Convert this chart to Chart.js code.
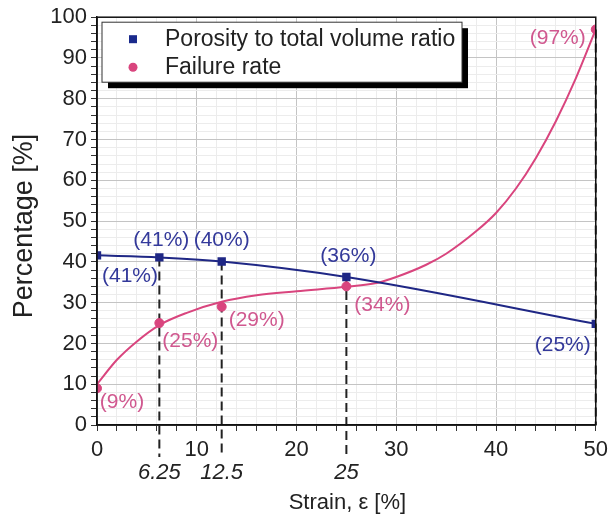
<!DOCTYPE html>
<html>
<head>
    <title>Porosity and failure rate vs strain</title>
    <script src="https://cdn.jsdelivr.net/npm/chart.js"></script>
    <style>
        body {
            margin: 0;
            background: white;
        }
        .chart-container {
            width: 614px;
            height: 523px;
        }
    </style>
</head>
<body>
    <div class="chart-container">
        <canvas id="strainChart" width="614" height="523"></canvas>
    </div>

    <script>
        // measured points
        const strain = [0, 6.25, 12.5, 25, 50];
        const porosity = [41.6, 41.1, 40.1, 36.3, 24.8];
        const failure = [9, 25, 29, 34, 97];
        const porosityLabels = ['(41%)', '(41%)', '(40%)', '(36%)', '(25%)'];
        const failureLabels = ['(9%)', '(25%)', '(29%)', '(34%)', '(97%)'];

        // fitted failure curve
        const fitStrain = [0, 2, 4, 6.25, 9, 12.5, 16, 20, 25, 28, 30, 33, 35, 38, 40, 42, 44, 46, 48, 50];
        const fitFailure = [10, 16, 20.5, 24.5, 27.5, 30.2, 31.8, 32.8, 33.9, 34.8, 36.3, 39.3, 42, 47.5, 52, 58, 65.5, 74.5, 85, 97];

        // strain values marked with dashed guides and italic labels
        const markedStrain = ['6.25', '12.5', '25'];

        const seriesNames = ['Porosity to total volume ratio', 'Failure rate'];

        const blue = '#1f2785';
        const blueText = '#33399a';
        const pink = '#d9457e';
        const pinkText = '#d0588f';

        // label offsets from each point (px)
        const porosityOffsets = [[33, 21], [2, -17], [0, -21], [2, -21], [-33, 21]];
        const failureOffsets = [[25, 14], [31, 18], [35, 13], [36, 19], [-38, 9]];

        const toXY = (xs, ys) => xs.map((x, i) => ({ x: x, y: ys[i] }));

        const extrasPlugin = {
            id: 'extras',
            beforeDatasetsDraw(chart) {
                const ctx = chart.ctx;
                const xs = chart.scales.x;
                const ys = chart.scales.y;
                const area = chart.chartArea;
                ctx.save();
                ctx.strokeStyle = '#222';
                ctx.lineWidth = 2;
                ctx.setLineDash([9, 5]);
                strain.forEach((s, i) => {
                    if (s === 0) return;
                    const top = Math.max(porosity[i], failure[i]);
                    const px = xs.getPixelForValue(s);
                    ctx.beginPath();
                    ctx.moveTo(px, ys.getPixelForValue(top));
                    ctx.lineTo(px, area.bottom + (s === 50 ? 0 : 32));
                    ctx.stroke();
                });
                ctx.restore();
            },
            afterDraw(chart) {
                const ctx = chart.ctx;
                const xs = chart.scales.x;
                const ys = chart.scales.y;
                const area = chart.chartArea;
                ctx.save();

                // frame
                ctx.strokeStyle = '#111';
                ctx.lineWidth = 1.5;
                ctx.strokeRect(area.left, area.top, area.right - area.left, area.bottom - area.top);

                // point labels
                ctx.font = '21px Arial, "Liberation Sans", sans-serif';
                ctx.textAlign = 'center';
                ctx.textBaseline = 'middle';
                strain.forEach((s, i) => {
                    const px = xs.getPixelForValue(s);
                    ctx.fillStyle = blueText;
                    ctx.fillText(porosityLabels[i], px + porosityOffsets[i][0], ys.getPixelForValue(porosity[i]) + porosityOffsets[i][1]);
                    ctx.fillStyle = pinkText;
                    ctx.fillText(failureLabels[i], px + failureOffsets[i][0], ys.getPixelForValue(failure[i]) + failureOffsets[i][1]);
                });

                // italic strain labels under the axis
                ctx.fillStyle = '#222';
                ctx.font = 'italic 22px Arial, "Liberation Sans", sans-serif';
                markedStrain.forEach(t => {
                    ctx.fillText(t, xs.getPixelForValue(parseFloat(t)), area.bottom + 48);
                });

                // axis titles
                ctx.font = '22px Arial, "Liberation Sans", sans-serif';
                ctx.fillText('Strain, \u03b5 [%]', (area.left + area.right) / 2 + 1, area.bottom + 78);
                ctx.save();
                ctx.translate(25, 226);
                ctx.rotate(-Math.PI / 2);
                ctx.font = '27px Arial, "Liberation Sans", sans-serif';
                ctx.fillText('Percentage [%]', 0, 0);
                ctx.restore();

                // legend box with shadow
                const lx = area.left + 5, ly = area.top + 5, lw = 360, lh = 60;
                ctx.fillStyle = '#000';
                ctx.fillRect(lx + 6, ly + 6, lw, lh);
                ctx.fillStyle = '#fff';
                ctx.fillRect(lx, ly, lw, lh);
                ctx.strokeStyle = '#333';
                ctx.lineWidth = 1;
                ctx.strokeRect(lx, ly, lw, lh);

                ctx.fillStyle = '#1a2a8c';
                ctx.fillRect(lx + 27, ly + 13, 8, 8);
                ctx.fillStyle = pink;
                ctx.beginPath();
                ctx.arc(lx + 31, ly + 45, 4.5, 0, Math.PI * 2);
                ctx.fill();

                ctx.fillStyle = '#222';
                ctx.textAlign = 'left';
                ctx.font = '23px Arial, "Liberation Sans", sans-serif';
                ctx.fillText(seriesNames[0], lx + 63, ly + 17);
                ctx.fillText(seriesNames[1], lx + 63, ly + 45);

                ctx.restore();
            }
        };

        const gridColor = (ctx) => (ctx.tick && ctx.tick.value % 10 === 0) ? '#c4c4c4' : '#ececec';

        const config = {
            type: 'scatter',
            data: {
                datasets: [
                    {
                        label: seriesNames[0],
                        data: toXY(strain, porosity),
                        showLine: true,
                        borderColor: blue,
                        backgroundColor: blue,
                        borderWidth: 2,
                        cubicInterpolationMode: 'monotone',
                        pointStyle: 'rect',
                        pointRadius: 4.5,
                        order: 1
                    },
                    {
                        label: seriesNames[1],
                        data: toXY(strain, failure),
                        showLine: false,
                        backgroundColor: pink,
                        borderColor: pink,
                        pointRadius: 4.5,
                        order: 0
                    },
                    {
                        label: 'fit',
                        data: toXY(fitStrain, fitFailure),
                        showLine: true,
                        borderColor: pink,
                        borderWidth: 2,
                        pointRadius: 0,
                        cubicInterpolationMode: 'monotone',
                        order: 2
                    }
                ]
            },
            options: {
                responsive: false,
                animation: false,
                layout: { padding: { top: 17, right: 14, left: 0, bottom: 0 } },
                plugins: {
                    legend: { display: false },
                    tooltip: { enabled: false }
                },
                scales: {
                    x: {
                        type: 'linear',
                        min: 0,
                        max: 50,
                        afterFit: (scale) => { scale.height = 98; },
                        ticks: {
                            stepSize: 2,
                            autoSkip: false,
                            maxRotation: 0,
                            padding: 6,
                            color: '#222',
                            font: { family: 'Arial, "Liberation Sans", sans-serif', size: 22 },
                            callback: (v) => v % 10 === 0 ? v : ''
                        },
                        grid: { color: gridColor, tickColor: '#333', tickLength: 6 },
                        border: { color: '#111', width: 1.5 }
                    },
                    y: {
                        min: 0,
                        max: 100,
                        afterFit: (scale) => { scale.width = 97; },
                        ticks: {
                            stepSize: 2,
                            autoSkip: false,
                            padding: 4,
                            color: '#222',
                            font: { family: 'Arial, "Liberation Sans", sans-serif', size: 22 },
                            callback: (v) => v % 10 === 0 ? v : ''
                        },
                        grid: { color: gridColor, tickColor: '#333', tickLength: 6 },
                        border: { color: '#111', width: 1.5 }
                    }
                }
            },
            plugins: [extrasPlugin]
        };

        new Chart(document.getElementById('strainChart'), config);
    </script>
</body>
</html>
